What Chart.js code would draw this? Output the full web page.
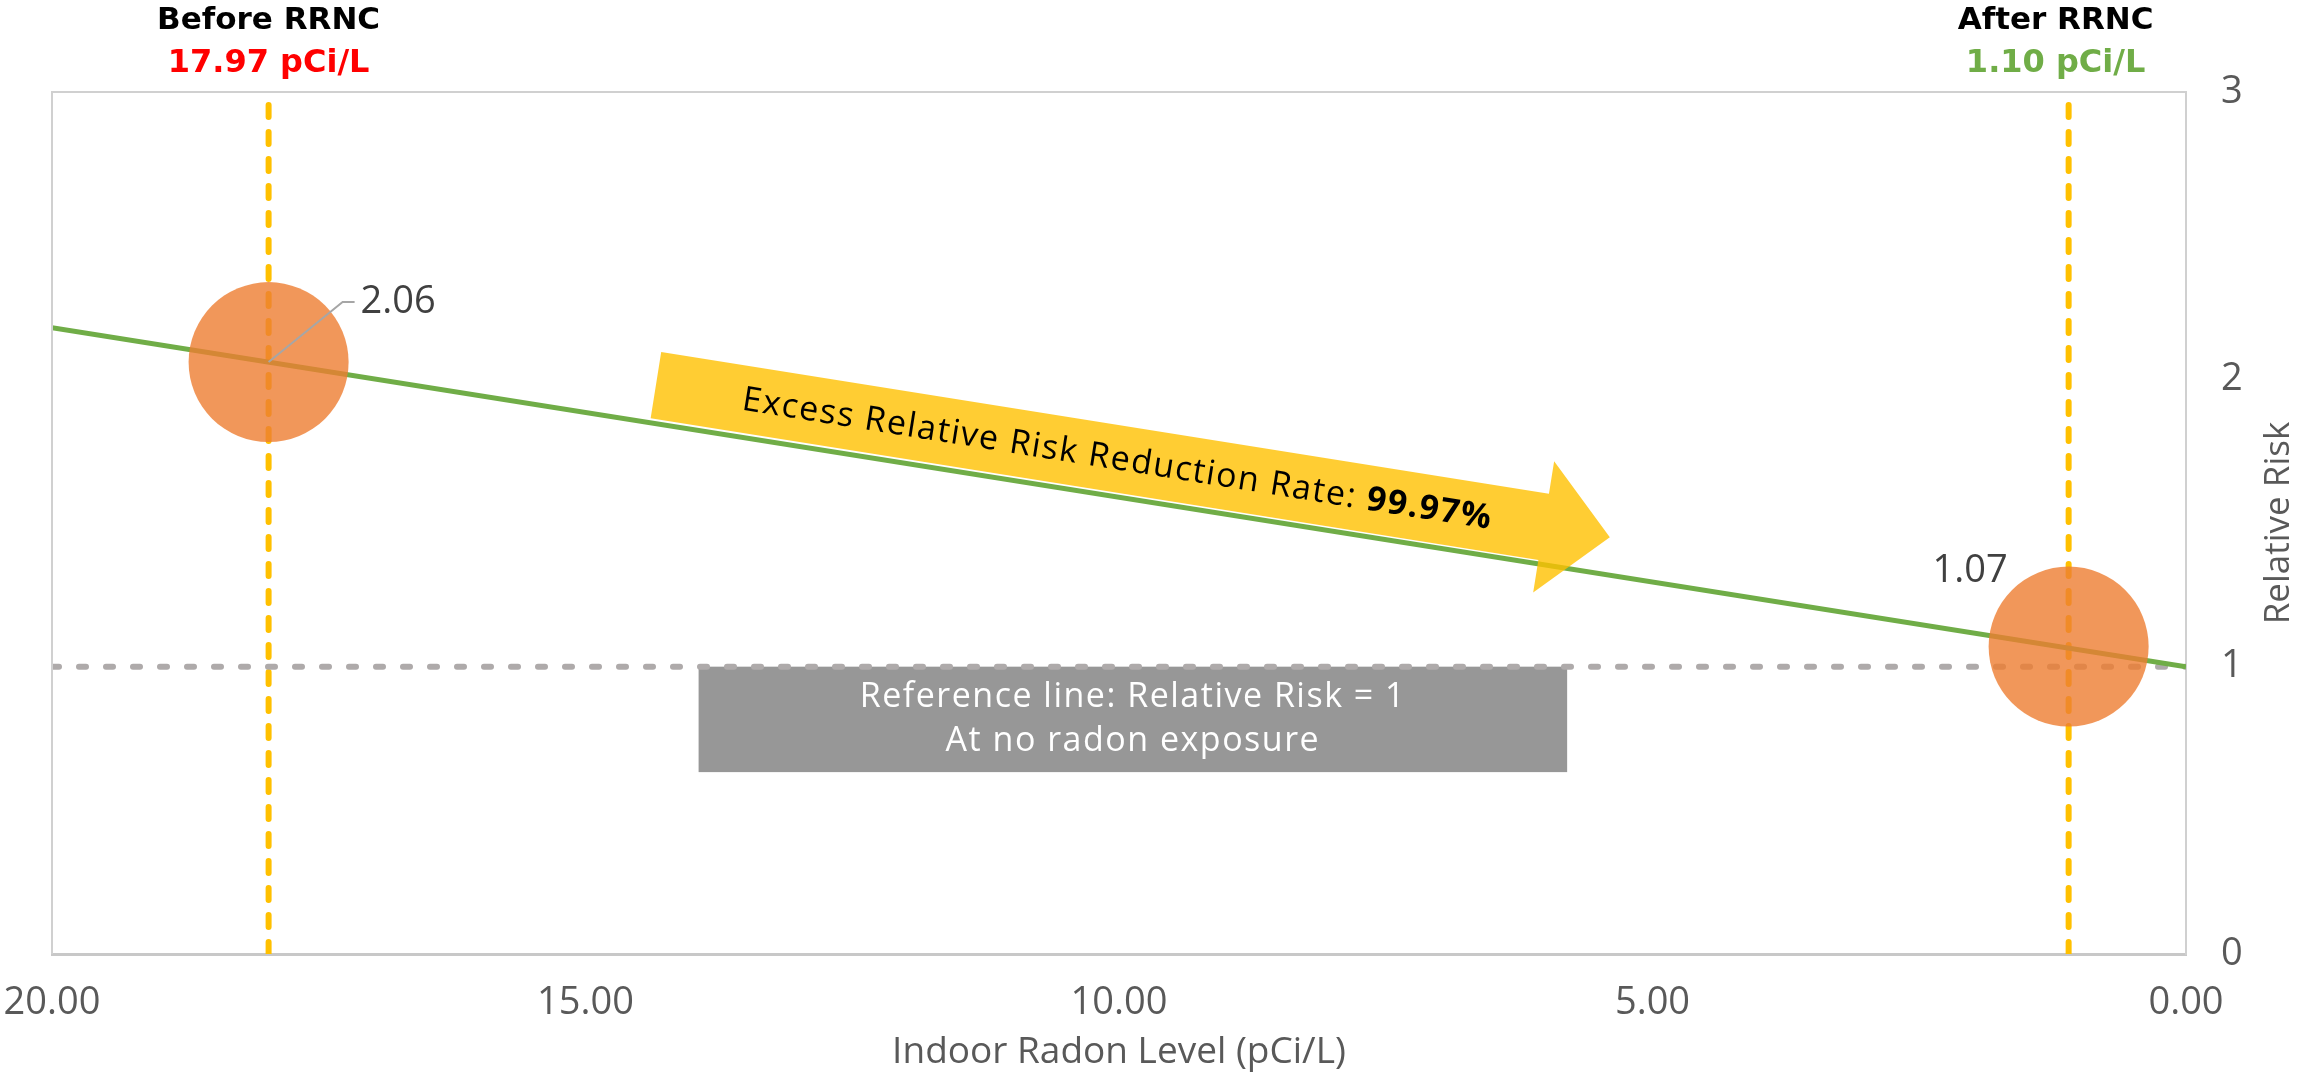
<!DOCTYPE html>
<html>
<head>
<meta charset="utf-8">
<title>Relative Risk vs Indoor Radon Level</title>
<script src="https://cdn.jsdelivr.net/npm/chart.js@4.4.1/dist/chart.umd.min.js"></script>
<style>
  html, body { margin: 0; padding: 0; background: #fff; }
  canvas { display: block; }
</style>
</head>
<body>
<canvas id="riskChart" width="2298" height="1073"></canvas>
<script>
// measured radon levels and the relative risk at each
const radonLevels = [17.97, 1.10];
const relativeRisk = [2.06, 1.07];
const pointNames = ['Before RRNC', 'After RRNC'];
const levelLabels = ['17.97 pCi/L', '1.10 pCi/L'];
const riskLabels = ['2.06', '1.07'];

// linear trend of relative risk against radon level
const trendX = [20, 0];
const trendY = [2.18, 1.00];

// reference line: RR = 1 at no exposure
const referenceRisk = 1;

const xTicks = [20, 15, 10, 5, 0];
const yTicks = [0, 1, 2, 3];

const reductionText = 'Excess Relative Risk Reduction Rate: ';
const reductionRate = '99.97%';
const referenceNote = ['Reference line: Relative Risk = 1', 'At no radon exposure'];
const xTitle = 'Indoor Radon Level (pCi/L)';
const yTitle = 'Relative Risk';

// annotation anchors in data units
const arrowFrom = { x: 14.34, y: 1.98 };
const arrowTo = { x: 5.40, y: 1.45 };
const noteBox = { x0: 13.94, y0: 1.0, x1: 5.80, y1: 0.633 };

const FONT = '"Open Sans", "Noto Sans", sans-serif';
const GREY_TEXT = '#595959';

const overlay = {
    id: 'overlay',
    beforeDatasetsDraw(chart) {
        const { ctx, scales: { x, y } } = chart;
        const l = x.getPixelForValue(noteBox.x0), r = x.getPixelForValue(noteBox.x1);
        const t = y.getPixelForValue(noteBox.y0), b = y.getPixelForValue(noteBox.y1);
        ctx.save();
        ctx.fillStyle = '#979797';
        ctx.fillRect(l, t, r - l, b - t);
        ctx.fillStyle = '#ffffff';
        ctx.font = '34px ' + FONT;
        ctx.letterSpacing = '1.5px';
        ctx.textAlign = 'center';
        ctx.textBaseline = 'middle';
        const cx = (l + r) / 2;
        ctx.fillText(referenceNote[0], cx, t + 31);
        ctx.fillText(referenceNote[1], cx, t + 75);
        ctx.restore();
    },
    afterDatasetsDraw(chart) {
        const { ctx, chartArea: area, scales: { x, y } } = chart;
        ctx.save();

        // plot frame (left and top; right/bottom come from the axes)
        ctx.strokeStyle = '#D0D0D0';
        ctx.lineWidth = 2;
        ctx.beginPath();
        ctx.moveTo(area.left, area.bottom);
        ctx.lineTo(area.left, area.top);
        ctx.lineTo(area.right, area.top);
        ctx.stroke();

        // big reduction arrow
        const sx = x.getPixelForValue(arrowFrom.x), sy = y.getPixelForValue(arrowFrom.y);
        const ex = x.getPixelForValue(arrowTo.x), ey = y.getPixelForValue(arrowTo.y);
        const ang = Math.atan2(ey - sy, ex - sx);
        const len = Math.hypot(ex - sx, ey - sy);
        const hw = 33.5, hh = 66.5, hl = 67;
        ctx.save();
        ctx.translate(sx, sy);
        ctx.rotate(ang);
        ctx.fillStyle = 'rgba(255, 192, 0, 0.8)';
        ctx.beginPath();
        ctx.moveTo(0, -hw);
        ctx.lineTo(len - hl, -hw);
        ctx.lineTo(len - hl, -hh);
        ctx.lineTo(len, 0);
        ctx.lineTo(len - hl, hh);
        ctx.lineTo(len - hl, hw);
        ctx.lineTo(0, hw);
        ctx.closePath();
        ctx.fill();
        ctx.fillStyle = '#000000';
        ctx.textBaseline = 'middle';
        ctx.textAlign = 'left';
        ctx.letterSpacing = '1.5px';
        ctx.font = '34px ' + FONT;
        const w1 = ctx.measureText(reductionText).width;
        ctx.font = 'bold 34px ' + FONT;
        const w2 = ctx.measureText(reductionRate).width;
        const tx = len * 0.484 - (w1 + w2) / 2;
        ctx.font = '34px ' + FONT;
        ctx.fillText(reductionText, tx, 1);
        ctx.font = 'bold 34px ' + FONT;
        ctx.fillText(reductionRate, tx + w1, 1);
        ctx.restore();

        // value labels on the bubbles
        const p0x = x.getPixelForValue(radonLevels[0]), p0y = y.getPixelForValue(relativeRisk[0]);
        const p1x = x.getPixelForValue(radonLevels[1]), p1y = y.getPixelForValue(relativeRisk[1]);
        ctx.strokeStyle = '#A6A6A6';
        ctx.lineWidth = 2;
        ctx.beginPath();
        ctx.moveTo(p0x, p0y);
        ctx.lineTo(p0x + 74, p0y - 60);
        ctx.lineTo(p0x + 86, p0y - 60);
        ctx.stroke();
        ctx.fillStyle = '#404040';
        ctx.font = '38px ' + FONT;
        ctx.textBaseline = 'middle';
        ctx.textAlign = 'left';
        ctx.fillText(riskLabels[0], p0x + 92, p0y - 60);
        ctx.textAlign = 'right';
        ctx.fillText(riskLabels[1], p1x - 61, p1y - 75);

        ctx.restore();
    },
    afterDraw(chart) {
        const { ctx, chartArea: area, scales: { x } } = chart;
        ctx.save();
        ctx.textAlign = 'center';
        ctx.textBaseline = 'middle';
        const shifts = [0, -13];
        const valueColors = ['#FF0000', '#70AD47'];
        radonLevels.forEach((v, i) => {
            const px = x.getPixelForValue(v) + shifts[i];
            ctx.font = 'bold 31px "DejaVu Sans", sans-serif';
            ctx.fillStyle = '#000000';
            ctx.fillText(pointNames[i], px, 21);
            ctx.font = 'bold 32px "DejaVu Sans", sans-serif';
            ctx.fillStyle = valueColors[i];
            ctx.fillText(levelLabels[i], px, 64);
        });

        ctx.fillStyle = GREY_TEXT;
        ctx.font = '37px ' + FONT;
        ctx.fillText(xTitle, (area.left + area.right) / 2, 1052);
        ctx.font = '35px ' + FONT;
        ctx.translate(2279, (area.top + area.bottom) / 2);
        ctx.rotate(-Math.PI / 2);
        ctx.fillText(yTitle, 0, 0);
        ctx.restore();
    }
};

const ctx = document.getElementById('riskChart').getContext('2d');
const riskChart = new Chart(ctx, {
    type: 'scatter',
    data: {
        datasets: [
            {
                label: 'Relative Risk',
                data: radonLevels.map((v, i) => ({ x: v, y: relativeRisk[i] })),
                pointRadius: 80,
                pointHoverRadius: 80,
                pointBackgroundColor: 'rgba(237, 125, 49, 0.8)',
                pointBorderWidth: 0,
                borderWidth: 0
            },
            {
                label: 'Trend',
                data: trendX.map((v, i) => ({ x: v, y: trendY[i] })),
                showLine: true,
                borderColor: '#70AD47',
                borderWidth: 5,
                pointRadius: 0
            },
            {
                label: 'Reference',
                data: trendX.map(v => ({ x: v, y: referenceRisk })),
                showLine: true,
                borderColor: '#AEAAAA',
                borderWidth: 6,
                borderDash: [7, 20],
                borderCapStyle: 'round',
                pointRadius: 0
            },
            {
                label: 'Before',
                data: [{ x: radonLevels[0], y: yTicks[0] }, { x: radonLevels[0], y: yTicks[yTicks.length - 1] }],
                showLine: true,
                borderColor: '#FFC000',
                borderWidth: 6,
                borderDash: [12, 15],
                borderCapStyle: 'round',
                pointRadius: 0
            },
            {
                label: 'After',
                data: [{ x: radonLevels[1], y: yTicks[0] }, { x: radonLevels[1], y: yTicks[yTicks.length - 1] }],
                showLine: true,
                borderColor: '#FFC000',
                borderWidth: 6,
                borderDash: [12, 15],
                borderCapStyle: 'round',
                pointRadius: 0
            }
        ]
    },
    options: {
        responsive: false,
        animation: false,
        layout: { autoPadding: false, padding: { left: 52, top: 92, right: 0, bottom: 0 } },
        plugins: {
            legend: { display: false },
            tooltip: { enabled: false }
        },
        scales: {
            x: {
                type: 'linear',
                min: 0,
                max: 20,
                reverse: true,
                grid: { display: false, drawTicks: false },
                border: { display: true, color: '#C8C8C8', width: 3 },
                afterBuildTicks: s => { s.ticks = xTicks.map(v => ({ value: v })); },
                afterFit: s => { s.height = 119; s.paddingLeft = 0; s.paddingRight = 0; },
                ticks: {
                    padding: 26,
                    maxRotation: 0,
                    autoSkip: false,
                    color: GREY_TEXT,
                    font: { family: FONT, size: 38 },
                    callback: v => Number(v).toFixed(2)
                }
            },
            y: {
                type: 'linear',
                position: 'right',
                min: 0,
                max: 3,
                grid: { display: false, drawTicks: false },
                border: { display: true, color: '#D0D0D0', width: 2 },
                afterBuildTicks: s => { s.ticks = yTicks.map(v => ({ value: v })); },
                afterFit: s => { s.width = 112; },
                ticks: {
                    padding: 35,
                    color: GREY_TEXT,
                    font: { family: FONT, size: 38 }
                }
            }
        }
    },
    plugins: [overlay]
});
</script>
</body>
</html>
